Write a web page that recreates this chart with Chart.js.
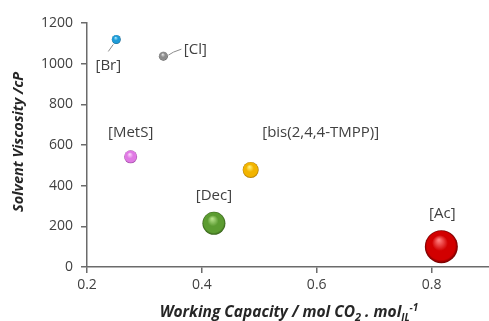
<!DOCTYPE html>
<html>
<head>
<meta charset="utf-8">
<script src="https://cdn.jsdelivr.net/npm/chart.js@4/dist/chart.umd.min.js"></script>
<style>
  html, body { margin: 0; padding: 0; background: #ffffff; overflow: hidden; }
  #wrap { width: 489px; height: 321px; position: relative; }
  canvas { display: block; }
</style>
</head>
<body>
<div id="wrap"><canvas id="chart"></canvas></div>
<script>
// Ionic liquid anions: CO2 working capacity vs. solvent viscosity
const anions = ['[Br]', '[Cl]', '[MetS]', '[bis(2,4,4-TMPP)]', '[Dec]', '[Ac]'];
const workingCapacity = [0.251, 0.333, 0.276, 0.485, 0.421, 0.817];
const viscosity = [1119, 1037, 542, 477, 215, 100];
const bubbleSize = [4.5, 4.5, 6.5, 8, 11.5, 16.5];
const xTicks = [0.2, 0.4, 0.6, 0.8];
const yTicks = [0, 200, 400, 600, 800, 1000, 1200];

// sphere shading: [highlight, body, shadow]
const sphereColors = [
  ['#9fe6ff', '#1e9bd7', '#0b5a84'],
  ['#e2e2e2', '#8c8c8c', '#4f4f4f'],
  ['#fbd2fb', '#e07ae4', '#9a469f'],
  ['#fff07a', '#f2b400', '#a87400'],
  ['#b4e088', '#5c9c31', '#345f18'],
  ['#ff7a7a', '#d20000', '#6e0000']
];

// label placement relative to each bubble centre (px) and optional leader line
const labelLayout = [
  { dx: -8, dy: 26, lead: [[-8, 12], [-3, 5]] },
  { dx: 32, dy: -6, lead: [[5, -1], [10, -4], [18, -7]] },
  { dx: 0, dy: -24 },
  { dx: 70, dy: -37 },
  { dx: 0, dy: -28 },
  { dx: 1, dy: -33 }
];

const FONT = "'Open Sans', 'Liberation Sans', sans-serif";
const TEXT = '#404040';
const TITLE = '#262626';
const AXIS = '#6b6b6b';

const points = anions.map((name, i) => ({ x: workingCapacity[i], y: viscosity[i], r: bubbleSize[i] }));

function sphereFill(ctx) {
  const chart = ctx.chart;
  const i = ctx.dataIndex;
  const cols = sphereColors[i] || sphereColors[0];
  const xs = chart.scales.x, ys = chart.scales.y;
  if (ctx.type !== 'data' || !xs || !ys) return cols[1];
  const cx = xs.getPixelForValue(ctx.raw.x);
  const cy = ys.getPixelForValue(ctx.raw.y);
  const r = ctx.raw.r;
  if (!isFinite(cx) || !isFinite(cy)) return cols[1];
  const g = chart.ctx.createRadialGradient(cx - r * 0.15, cy - r * 0.4, r * 0.05, cx, cy, r);
  g.addColorStop(0, cols[0]);
  g.addColorStop(0.45, cols[1]);
  g.addColorStop(0.85, cols[1]);
  g.addColorStop(1, cols[2]);
  return g;
}

const labelPlugin = {
  id: 'anionLabels',
  afterDatasetsDraw(chart) {
    const c = chart.ctx;
    const meta = chart.getDatasetMeta(0);
    c.save();
    c.font = '15px ' + FONT;
    c.fillStyle = TEXT;
    c.textAlign = 'center';
    c.textBaseline = 'middle';
    meta.data.forEach((el, i) => {
      const lay = labelLayout[i];
      if (lay.lead) {
        c.beginPath();
        c.strokeStyle = '#8c8c8c';
        c.lineWidth = 1;
        lay.lead.forEach((p, k) => {
          if (k === 0) c.moveTo(el.x + p[0], el.y + p[1]);
          else c.lineTo(el.x + p[0], el.y + p[1]);
        });
        c.stroke();
      }
      c.fillText(anions[i], el.x + lay.dx, el.y + lay.dy);
    });
    c.restore();
  }
};

// axis titles (x title carries sub/superscripts)
const titlePlugin = {
  id: 'axisTitles',
  afterDraw(chart) {
    const c = chart.ctx;
    const area = chart.chartArea;
    c.save();
    c.fillStyle = TITLE;

    // y title, rotated
    c.font = 'italic bold 14.5px ' + FONT;
    c.textAlign = 'center';
    c.textBaseline = 'middle';
    c.translate(19, (area.top + area.bottom) / 2 - 3);
    c.rotate(-Math.PI / 2);
    c.fillText('Solvent Viscosity /cP', 0, 0);
    c.setTransform(1, 0, 0, 1, 0, 0);

    const parts = [
      ['Working Capacity / mol CO', 0, 15.5],
      ['2', 4, 11],
      [' . mol', 0, 15.5],
      ['IL', 4, 10],
      ['-1', -6, 10]
    ];
    c.textBaseline = 'alphabetic';
    c.textAlign = 'left';
    let total = 0;
    parts.forEach(p => { c.font = 'italic bold ' + p[2] + 'px ' + FONT; total += c.measureText(p[0]).width; });
    let x = 289 - total / 2;
    const base = 317;
    parts.forEach(p => {
      c.font = 'italic bold ' + p[2] + 'px ' + FONT;
      c.fillText(p[0], x, base + p[1]);
      x += c.measureText(p[0]).width;
    });
    c.restore();
  }
};

new Chart(document.getElementById('chart'), {
  type: 'bubble',
  data: {
    datasets: [{
      data: points,
      backgroundColor: sphereFill,
      borderWidth: 0,
      hoverBorderWidth: 0,
      clip: false
    }]
  },
  options: {
    responsive: true,
    maintainAspectRatio: false,
    animation: false,
    events: [],
    layout: { autoPadding: false, padding: { top: 23, right: -3, left: 0, bottom: 0 } },
    plugins: { legend: { display: false }, tooltip: { enabled: false } },
    scales: {
      x: {
        type: 'linear',
        min: 0.2,
        max: 0.9,
        afterBuildTicks: s => { s.ticks = xTicks.map(v => ({ value: v })); },
        afterFit: s => { s.height = 54; s.paddingRight = 0; s.paddingLeft = 0; },
        ticks: {
          font: { family: FONT, size: 14 },
          color: TEXT,
          padding: 4,
          callback: v => v.toFixed(1)
        },
        grid: { drawOnChartArea: false, tickLength: 6, color: AXIS, lineWidth: 1.5 },
        border: { display: true, color: AXIS, width: 1.5 }
      },
      y: {
        type: 'linear',
        min: 0,
        max: 1200,
        afterBuildTicks: s => { s.ticks = yTicks.map(v => ({ value: v })); },
        afterFit: s => { s.width = 87; s.paddingTop = 0; s.paddingBottom = 0; },
        ticks: {
          font: { family: FONT, size: 14 },
          color: TEXT,
          padding: 8,
          callback: v => String(v)
        },
        grid: { drawOnChartArea: false, tickLength: 6, color: AXIS, lineWidth: 1.5 },
        border: { display: true, color: AXIS, width: 1.5 }
      }
    }
  },
  plugins: [labelPlugin, titlePlugin]
});
</script>
</body>
</html>
